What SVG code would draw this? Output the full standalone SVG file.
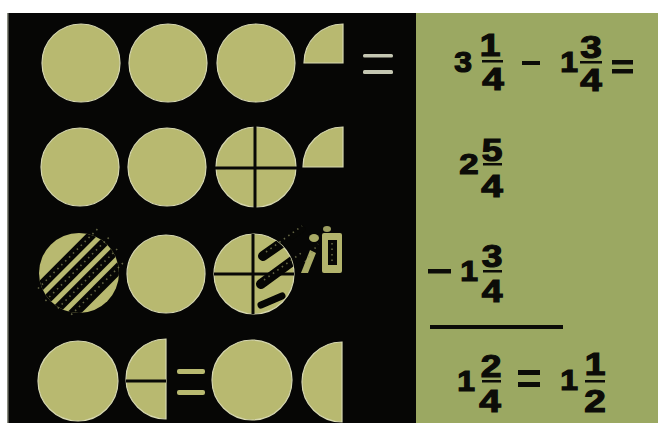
<svg xmlns="http://www.w3.org/2000/svg" width="658" height="423" viewBox="0 0 658 423">
<style>
.disc{fill:#b8b970;stroke:#d6d7b0;stroke-width:1.2}
.cut{stroke:#080806;stroke-width:3}
.d{font-family:"Liberation Sans",Arial,sans-serif;font-weight:bold;font-size:31px;fill:#0c0c08;stroke:#0c0c08;stroke-width:1.2;text-anchor:middle}
.w{font-size:29px}
.ink{fill:#0c0c08}
.hatch{stroke:#060604;stroke-linecap:round;fill:none}
.spk{stroke:#8d8e60;stroke-width:1.6;stroke-dasharray:1.5 4;fill:none;opacity:.7}
</style>
<defs>
<clipPath id="c31"><circle cx="0" cy="0" r="40"/></clipPath>
<clipPath id="c33"><circle cx="254" cy="274" r="40"/></clipPath>
</defs>
<rect width="658" height="423" fill="#ffffff"/>
<rect x="7" y="13" width="410" height="410" fill="#060605"/>
<rect x="7" y="13" width="1.5" height="410" fill="#8a8c80"/>
<rect x="416" y="13" width="242" height="410" fill="#9ba862"/>

<!-- Row 1 -->
<g id="r1c1"><circle class="disc" cx="81" cy="63" r="39"/></g>
<g id="r1c2"><circle class="disc" cx="168" cy="63" r="39"/></g>
<g id="r1c3"><circle class="disc" cx="256" cy="63" r="39"/></g>
<g id="r1q"><path class="disc" d="M343 63 L304 63 A39 39 0 0 1 343 24 Z"/></g>
<g id="r1eq" fill="#c4c6b2"><rect x="363" y="54" width="30" height="3.5" rx="1.5"/><rect x="363" y="70" width="30" height="4" rx="1.5"/></g>

<!-- Row 2 -->
<g id="r2c1"><circle class="disc" cx="80" cy="167" r="39"/></g>
<g id="r2c2"><circle class="disc" cx="167" cy="167" r="39"/></g>
<g id="r2c3"><circle class="disc" cx="256" cy="167" r="40"/><line class="cut" x1="255" y1="126" x2="255" y2="208"/><line class="cut" x1="215" y1="168" x2="297" y2="168"/></g>
<g id="r2q"><path class="disc" d="M343 167 L303 167 A40 40 0 0 1 343 127 Z"/></g>

<!-- Row 3 -->
<g id="r3c1">
<g transform="translate(79,273) rotate(45)">
<g clip-path="url(#c31)">
<rect x="-45" y="-45" width="90" height="90" fill="#b8b970"/>
<rect x="-22.5" y="-50" width="9" height="100" fill="#070705"/>
<rect x="-8.5" y="-50" width="9" height="100" fill="#070705"/>
<rect x="5.5" y="-50" width="9" height="100" fill="#070705"/>
<rect x="19.5" y="-50" width="10.5" height="100" fill="#070705"/>
</g>
<path class="spk" d="M-18 -44 V44 M-4 -46 V46 M10 -44 V44 M24 -38 V38"/>
</g>
</g>
<g id="r3c2"><circle class="disc" cx="166" cy="274" r="39"/></g>
<g id="r3c3">
<circle class="disc" cx="254" cy="274" r="40"/>
<line class="cut" x1="253" y1="234" x2="253" y2="314"/>
<line class="cut" x1="214" y1="274" x2="294" y2="274"/>
<g clip-path="url(#c33)">
<line class="hatch" stroke-width="10" x1="263" y1="256" x2="300" y2="230"/>
<line class="hatch" stroke-width="10" x1="261" y1="284" x2="302" y2="254"/>
<line class="hatch" stroke-width="7" x1="261" y1="305" x2="282" y2="296"/>
</g>
<path class="hatch" stroke-width="7" d="M292 236 L302 229"/>
<path class="spk" d="M266 252 L302 226 M264 280 L304 251"/>
</g>
<g id="r3q">
<path fill="#a9ab66" d="M301 273 L308 273 L316 253 L310 250 Z"/>
<ellipse cx="314" cy="238" rx="5" ry="4" fill="#a9ab66"/>
<ellipse cx="327" cy="229" rx="4" ry="3" fill="#9c9e60"/>
<rect x="322" y="233" width="20" height="40" rx="2" fill="#b2b36c"/>
<rect x="328" y="240" width="9" height="25" fill="#070705"/>
<path class="spk" d="M332 243 V262 M305 262 L318 244"/>
</g>

<!-- Row 4 -->
<g id="r4c1"><circle class="disc" cx="78" cy="381" r="40"/></g>
<g id="r4h1"><path class="disc" d="M166 339 L166 419 A40 40 0 0 1 166 339 Z"/><line class="cut" x1="126" y1="381" x2="166" y2="381"/></g>
<g id="r4eq" fill="#b8b970"><rect x="177" y="369" width="28" height="5" rx="2"/><rect x="177" y="390" width="28" height="5" rx="2"/></g>
<g id="r4c2"><circle class="disc" cx="252" cy="380" r="40"/></g>
<g id="r4h2"><path class="disc" d="M342 342 L342 422 A40 40 0 0 1 342 342 Z"/></g>

<!-- Right panel arithmetic -->
<g id="line1">
<text class="d w" transform="translate(463,72) scale(1.1,1)">3</text>
<text class="d" transform="translate(490,56) scale(1.2,1)">1</text>
<rect class="ink" x="482" y="60" width="21" height="2.5"/>
<text class="d" transform="translate(493,90) scale(1.25,1)">4</text>
<rect class="ink" x="522" y="61" width="18" height="4"/>
<text class="d w" transform="translate(569,72) scale(1.1,1)">1</text>
<text class="d" transform="translate(591,58) scale(1.25,1)">3</text>
<rect class="ink" x="580" y="61" width="22" height="2.5"/>
<text class="d" transform="translate(591,91) scale(1.25,1)">4</text>
<rect class="ink" x="612" y="60" width="21" height="4.5"/>
<rect class="ink" x="612" y="69" width="21" height="4.5"/>
</g>
<g id="line2">
<text class="d w" transform="translate(469,174) scale(1.2,1)">2</text>
<text class="d" transform="translate(492,161) scale(1.2,1)">5</text>
<rect class="ink" x="483" y="163" width="19" height="2.5"/>
<text class="d" transform="translate(492,197) scale(1.25,1)">4</text>
</g>
<g id="line3">
<rect class="ink" x="428" y="269" width="23" height="4.5"/>
<text class="d w" transform="translate(469,281) scale(1.1,1)">1</text>
<text class="d" transform="translate(492,267) scale(1.2,1)">3</text>
<rect class="ink" x="483" y="270" width="19" height="2.5"/>
<text class="d" transform="translate(492,302) scale(1.2,1)">4</text>
<rect class="ink" x="430" y="325" width="133" height="4"/>
</g>
<g id="line4">
<text class="d w" transform="translate(466,391) scale(1.1,1)">1</text>
<text class="d" transform="translate(491,377) scale(1.2,1)">2</text>
<rect class="ink" x="482" y="380" width="19" height="2.5"/>
<text class="d" transform="translate(490,412) scale(1.25,1)">4</text>
<rect class="ink" x="518" y="370" width="22" height="5"/>
<rect class="ink" x="518" y="382" width="22" height="5"/>
<text class="d w" transform="translate(569,390) scale(1.1,1)">1</text>
<text class="d" transform="translate(595,375) scale(1.2,1)">1</text>
<rect class="ink" x="585" y="380" width="20" height="2.5"/>
<text class="d" transform="translate(595,412) scale(1.25,1)">2</text>
</g>
</svg>
